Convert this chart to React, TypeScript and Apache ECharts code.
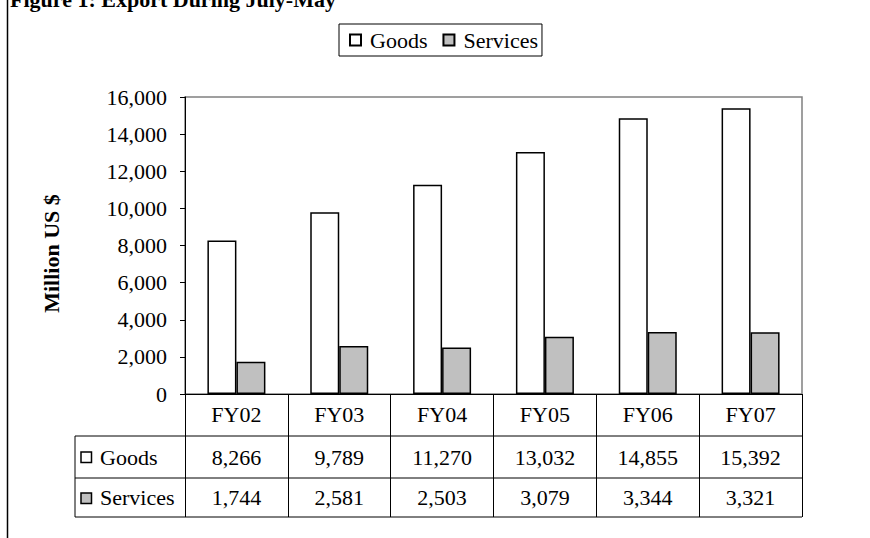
import React, { useEffect, useRef } from "react";
import * as echarts from "echarts";

const categories = ["FY02", "FY03", "FY04", "FY05", "FY06", "FY07"];
const goodsValues = [8266, 9789, 11270, 13032, 14855, 15392];
const servicesValues = [1744, 2581, 2503, 3079, 3344, 3321];
const seriesNames = ["Goods", "Services"];
const titleText = "Figure 1: Export During July-May";
const yAxisName = "Million US $";
const yMin = 0;
const yMax = 16000;
const yInterval = 2000;

const FONT = "Liberation Serif";
const FS = 22;
const fmt = (v: number) => v.toLocaleString("en-US");

// layout constants
const G_LEFT = 185;
const G_TOP = 97;
const G_RIGHT_X = 802;
const G_BOTTOM_Y = 394;
const ROW1_Y = 436;
const ROW2_Y = 478;
const ROW3_Y = 517;
const TABLE_LEFT = 75;

export default function App() {
  const ref = useRef<HTMLDivElement>(null);
  useEffect(() => {
    if (!ref.current) return;
    const chart = echarts.init(ref.current, null, { renderer: "svg" });
    const line = (x1: number, y1: number, x2: number, y2: number, w = 1) => ({
      type: "line",
      shape: { x1, y1, x2, y2 },
      style: { stroke: "#000", lineWidth: w },
      silent: true,
    });
    chart.setOption({
      animation: false,
      backgroundColor: "#fff",
      textStyle: { fontFamily: FONT, color: "#000" },
      grid: {
        left: G_LEFT,
        top: G_TOP,
        right: 870 - G_RIGHT_X,
        bottom: 538 - G_BOTTOM_Y,
        show: true,
        borderColor: "#808080",
        borderWidth: 1.5,
        backgroundColor: "transparent",
      },
      legend: {
        data: seriesNames,
        left: 339,
        top: 24,
        icon: "rect",
        itemWidth: 11,
        itemHeight: 11,
        itemGap: 15,
        padding: [5, 4, 5, 10],
        borderColor: "#000",
        borderWidth: 1,
        backgroundColor: "#fff",
        textStyle: { fontFamily: FONT, fontSize: FS, color: "#000", padding: [0, 0, 0, 4] },
      },
      xAxis: [
        {
          type: "category",
          data: categories,
          position: "bottom",
          axisLine: { show: true, lineStyle: { color: "#000", width: 1 } },
          axisTick: { show: true, length: ROW3_Y - G_BOTTOM_Y, lineStyle: { color: "#000", width: 1 } },
          axisLabel: { interval: 0, margin: 9, fontSize: FS, color: "#000", fontFamily: FONT },
          splitLine: { show: false },
        },
        {
          type: "category",
          data: goodsValues.map(fmt),
          position: "bottom",
          offset: ROW1_Y - G_BOTTOM_Y,
          axisLine: { show: false },
          axisTick: { show: false },
          axisLabel: { interval: 0, margin: 10, fontSize: FS, color: "#000", fontFamily: FONT },
          splitLine: { show: false },
        },
        {
          type: "category",
          data: servicesValues.map(fmt),
          position: "bottom",
          offset: ROW2_Y - G_BOTTOM_Y,
          axisLine: { show: false },
          axisTick: { show: false },
          axisLabel: { interval: 0, margin: 8, fontSize: FS, color: "#000", fontFamily: FONT },
          splitLine: { show: false },
        },
      ],
      yAxis: {
        type: "value",
        min: yMin,
        max: yMax,
        interval: yInterval,
        axisLine: { show: true, lineStyle: { color: "#000", width: 1 } },
        axisTick: { show: true, length: 5, lineStyle: { color: "#000" } },
        axisLabel: { margin: 18, fontSize: FS, color: "#000", fontFamily: FONT, formatter: (v: number) => fmt(v) },
        splitLine: { show: false },
        name: yAxisName,
        nameLocation: "middle",
        nameGap: 123,
        nameTextStyle: { fontWeight: "bold", fontSize: FS, color: "#000", fontFamily: FONT, padding: [0, 16, 0, 0] },
      },
      series: [
        {
          name: seriesNames[0],
          type: "bar",
          data: goodsValues,
          barWidth: 29,
          barGap: "0%",
          itemStyle: { color: "#ffffff", borderColor: "#000", borderWidth: 1.5 },
        },
        {
          name: seriesNames[1],
          type: "bar",
          data: servicesValues,
          barWidth: 29,
          barGap: "0%",
          itemStyle: { color: "#c0c0c0", borderColor: "#000", borderWidth: 1.5 },
        },
      ],
      graphic: [
        {
          type: "text",
          x: 10,
          y: -1,
          style: {
            text: titleText,
            fontFamily: FONT,
            fontSize: FS,
            fontWeight: "bold",
            fill: "#000",
            verticalAlign: "middle",
            align: "left",
          },
        },
        line(7.5, 0, 7.5, 538, 1.5),
        line(TABLE_LEFT, ROW1_Y, G_RIGHT_X, ROW1_Y),
        line(TABLE_LEFT, ROW2_Y, G_RIGHT_X, ROW2_Y),
        line(TABLE_LEFT, ROW3_Y, G_RIGHT_X, ROW3_Y),
        line(TABLE_LEFT, ROW1_Y, TABLE_LEFT, ROW3_Y),
        {
          type: "rect",
          shape: { x: 81, y: 452, width: 10.5, height: 10.5 },
          style: { fill: "#fff", stroke: "#000", lineWidth: 1.5 },
        },
        {
          type: "text",
          x: 100,
          y: (ROW1_Y + ROW2_Y) / 2,
          style: { text: seriesNames[0], fontFamily: FONT, fontSize: FS, fill: "#000", verticalAlign: "middle" },
        },
        {
          type: "rect",
          shape: { x: 81, y: 493, width: 10.5, height: 10.5 },
          style: { fill: "#c0c0c0", stroke: "#000", lineWidth: 1.5 },
        },
        {
          type: "text",
          x: 100,
          y: (ROW2_Y + ROW3_Y) / 2,
          style: { text: seriesNames[1], fontFamily: FONT, fontSize: FS, fill: "#000", verticalAlign: "middle" },
        },
      ],
    });
    return () => chart.dispose();
  }, []);
  return (
    <div
      ref={ref}
      style={{ position: "fixed", left: 0, top: 0, width: 870, height: 538, background: "#fff" }}
    />
  );
}
